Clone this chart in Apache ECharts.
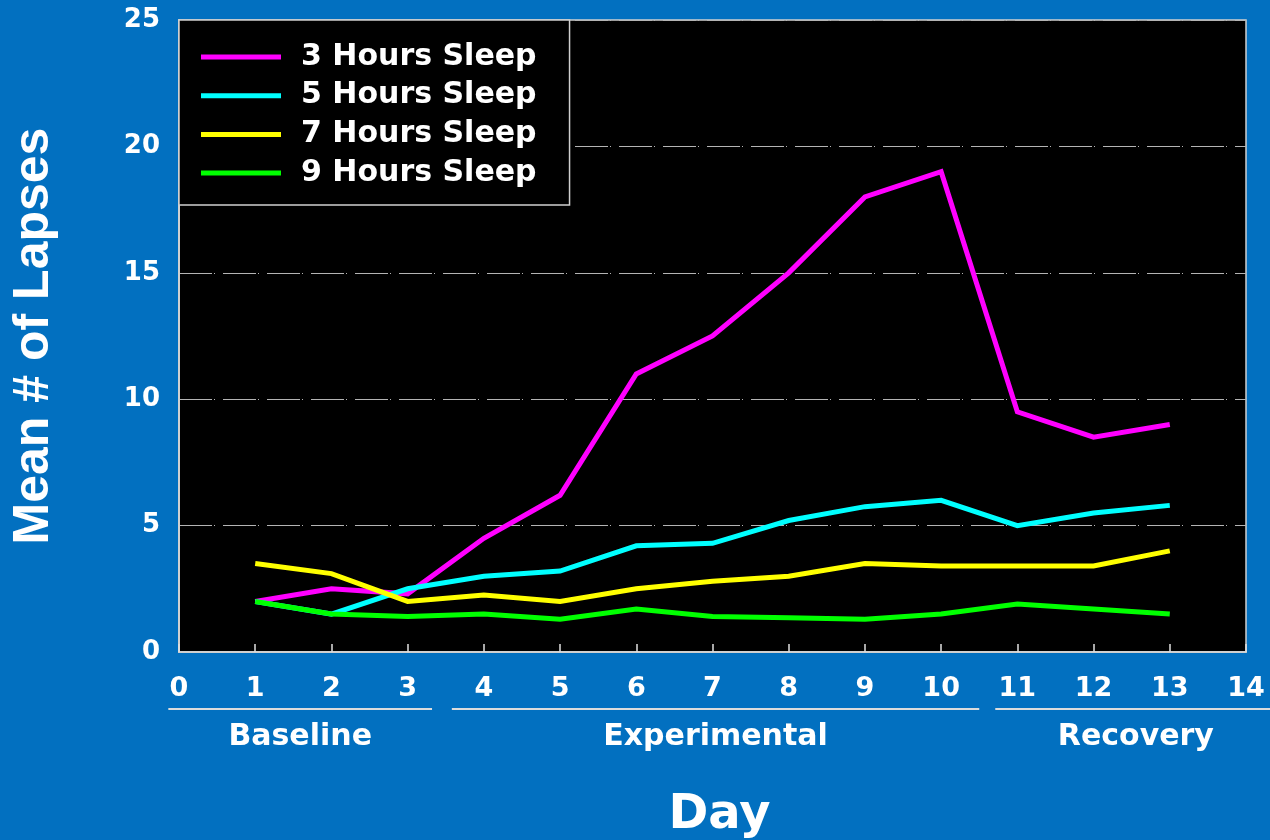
<!DOCTYPE html>
<html>
<head>
<meta charset="utf-8">
<script src="https://cdn.jsdelivr.net/npm/echarts@6/dist/echarts.min.js"></script>
<style>
  html, body { margin: 0; padding: 0; background: #0270c0; }
  #chart { width: 1270px; height: 840px; }
</style>
</head>
<body>
<div id="chart"></div>
<script>
// Mean number of PVT lapses per day for each sleep-dose group
const days = [1, 2, 3, 4, 5, 6, 7, 8, 9, 10, 11, 12, 13];
const seriesNames = ['3 Hours Sleep', '5 Hours Sleep', '7 Hours Sleep', '9 Hours Sleep'];
const lapses3h = [2.0, 2.5, 2.3, 4.5, 6.2, 11.0, 12.5, 15.0, 18.0, 19.0, 9.5, 8.5, 9.0];
const lapses5h = [2.0, 1.5, 2.5, 3.0, 3.2, 4.2, 4.3, 5.2, 5.75, 6.0, 5.0, 5.5, 5.8];
const lapses7h = [3.5, 3.1, 2.0, 2.25, 2.0, 2.5, 2.8, 3.0, 3.5, 3.4, 3.4, 3.4, 4.0];
const lapses9h = [2.0, 1.5, 1.4, 1.5, 1.3, 1.7, 1.4, 1.35, 1.3, 1.5, 1.9, 1.7, 1.5];
const seriesColors = ['#ff00ff', '#00ffff', '#ffff00', '#00ff00'];

// Study phases shown under the day axis (spans in day units)
const phaseNames = ['Baseline', 'Experimental', 'Recovery'];
const phaseStart = [-0.14, 3.58, 10.71];
const phaseEnd = [3.32, 10.5, 14.4];

const xTickMin = 0, xTickMax = 14, xTickStep = 1;
const yTickMin = 0, yTickMax = 25, yTickStep = 5;

const FONT = '"DejaVu Sans", sans-serif';
const chart = echarts.init(document.getElementById('chart'));

const allValues = [lapses3h, lapses5h, lapses7h, lapses9h];

chart.setOption({
  backgroundColor: '#0270c0',
  animation: false,
  grid: {
    left: 179, top: 20, right: 24, bottom: 188,
    outerBoundsMode: 'none',
    containLabel: false,
    show: true, backgroundColor: '#000', borderColor: '#cfcfcf', borderWidth: 1.5
  },
  legend: {
    orient: 'vertical',
    left: 179, top: 20,
    padding: [22, 33, 17, 22],
    backgroundColor: '#000',
    borderColor: '#cfcfcf', borderWidth: 1.5,
    icon: 'rect',
    itemWidth: 80, itemHeight: 5,
    itemGap: 8.7,
    data: seriesNames,
    textStyle: {
      color: '#fff', fontFamily: FONT, fontWeight: 'bold', fontSize: 30,
      lineHeight: 28, padding: [0, 0, 0, 15]
    }
  },
  xAxis: {
    type: 'value',
    min: xTickMin, max: xTickMax, interval: xTickStep,
    name: 'Day',
    nameLocation: 'middle',
    nameGap: 140,
    nameTextStyle: {
      color: '#fff', fontFamily: FONT, fontWeight: 'bold', fontSize: 48,
      padding: [0, 0, 0, 14]
    },
    axisLine: { show: true, lineStyle: { color: '#d0d0d0', width: 2 } },
    axisTick: { show: true, inside: true, length: 8, lineStyle: { color: '#e0e0e0', width: 1.5 } },
    axisLabel: {
      color: '#fff', fontFamily: FONT, fontWeight: 'bold', fontSize: 27, margin: 23
    },
    splitLine: { show: false }
  },
  yAxis: {
    type: 'value',
    min: yTickMin, max: yTickMax, interval: yTickStep,
    name: 'Mean # of Lapses',
    nameLocation: 'middle',
    nameGap: 120,
    nameTextStyle: {
      color: '#fff', fontFamily: '"Liberation Sans", Arial, sans-serif',
      fontWeight: 'bold', fontSize: 50
    },
    axisLine: { show: true, lineStyle: { color: '#d0d0d0', width: 2 } },
    axisTick: { show: false },
    axisLabel: {
      color: '#fff', fontFamily: FONT, fontWeight: 'bold', fontSize: 26, margin: 19
    },
    splitLine: {
      show: true,
      lineStyle: { color: '#b4b4b4', width: 1, type: [33, 2, 1, 8] }
    }
  },
  series: seriesNames.map((name, i) => ({
    name: name,
    type: 'line',
    symbol: 'none',
    data: days.map((d, k) => [d, allValues[i][k]]),
    lineStyle: { width: 5, color: seriesColors[i], join: 'miter' },
    itemStyle: { color: seriesColors[i] },
    z: 2 + i
  }))
});

// Phase brackets and labels below the day axis
const axisY = chart.convertToPixel({ yAxisIndex: 0 }, 0);
const graphics = [];
phaseNames.forEach((name, i) => {
  const x0 = chart.convertToPixel({ xAxisIndex: 0 }, phaseStart[i]);
  const x1 = chart.convertToPixel({ xAxisIndex: 0 }, phaseEnd[i]);
  graphics.push({
    type: 'line',
    shape: { x1: x0, y1: axisY + 57, x2: x1, y2: axisY + 57 },
    style: { stroke: '#dcdcdc', lineWidth: 2 }
  });
  graphics.push({
    type: 'text',
    x: (x0 + x1) / 2,
    y: axisY + 85,
    style: {
      text: name, fill: '#fff', font: 'bold 30px ' + FONT,
      textAlign: 'center', textVerticalAlign: 'middle'
    }
  });
});
chart.setOption({ graphic: graphics });
</script>
</body>
</html>
